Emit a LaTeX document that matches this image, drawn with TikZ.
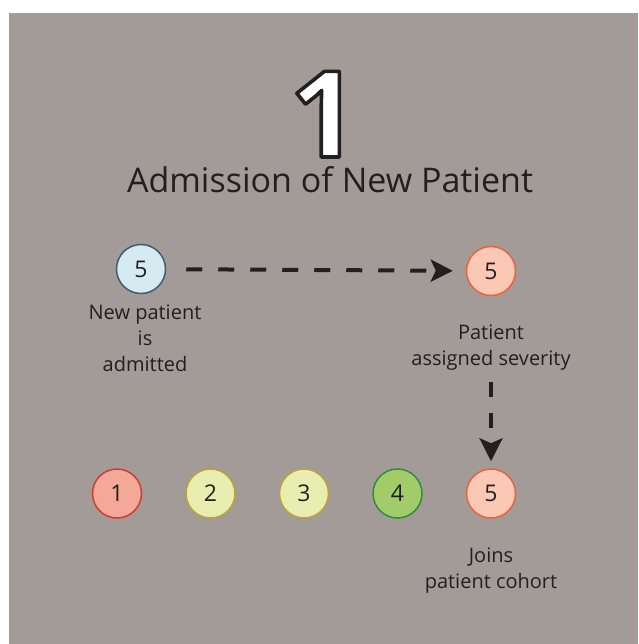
\documentclass[tikz,border=0pt]{standalone}
\usepackage{fontspec}
\setmainfont{Open Sans}
\usetikzlibrary{arrows.meta}
\definecolor{bgray}{RGB}{163,155,151}
\definecolor{ink}{RGB}{35,31,32}
\definecolor{bluefill}{RGB}{214,234,242}
\definecolor{bluedraw}{RGB}{62,92,115}
\definecolor{salfill}{RGB}{250,200,180}
\definecolor{saldraw}{RGB}{232,100,60}
\definecolor{redfill}{RGB}{244,168,152}
\definecolor{reddraw}{RGB}{208,60,50}
\definecolor{yelfill}{RGB}{232,238,176}
\definecolor{yeldraw}{RGB}{190,160,60}
\definecolor{grnfill}{RGB}{162,204,106}
\definecolor{grndraw}{RGB}{50,140,60}
\newcommand{\outlined}[1]{\special{pdf:literal direct 2 Tr 3.6 w 0.137 0.122 0.125 RG 1 j}#1\special{pdf:literal direct 0 Tr 0.4 w 0 0 0 RG 0 j}}
\tikzset{
  pt/.style={circle, minimum size=49pt, inner sep=0pt, line width=1.5pt, text=ink, font=\fontsize{23}{23}\selectfont},
  lbl/.style={align=center, text=ink, inner sep=0pt, anchor=base, font=\fontsize{20}{26}\selectfont},
  flow/.style={draw=ink, line width=4pt, dash pattern=on 16pt off 16pt, -{Stealth[length=22pt,width=22pt,inset=5pt]}},
  bignum/.style={inner sep=0pt, anchor=base, text=white, font=\fontsize{120}{120}\selectfont\bfseries}
}
\begin{document}
\begin{tikzpicture}[x=1pt,y=-1pt]
\useasboundingbox (0,0) rectangle (638,644);
\fill[white] (0,0) rectangle (638,644);
\fill[bgray] (9,13) rectangle (638,644);
\node[anchor=base, inner sep=0pt, text=ink, font=\fontsize{34}{40}\selectfont] (title) at (330,193) {Admission of New Patient};
% top row
\node[pt, draw=bluedraw, fill=bluefill] (new) at (141,269) {5};
\node[pt, draw=saldraw, fill=salfill] (sev) at (491,271) {5};
\node[lbl] (newl) at (145,371) {New patient\\is\\admitted};
\node[lbl] (sevl) at (491,365) {Patient\\assigned severity};
% bottom row
\node[pt, draw=reddraw, fill=redfill] (c1) at (117,493.5) {1};
\node[pt, draw=yeldraw, fill=yelfill] (c2) at (210.5,493.5) {2};
\node[pt, draw=yeldraw, fill=yelfill] (c3) at (304,493.5) {3};
\node[pt, draw=grndraw, fill=grnfill] (c4) at (397.5,493.5) {4};
\node[pt, draw=saldraw, fill=salfill] (c5) at (491,493.5) {5};
\node[lbl] (c5l) at (491,588) {Joins\\patient cohort};
% arrows
\draw[flow, shorten <=20pt, shorten >=13pt] (new) -- (sev);
\coordinate (vstart) at (491,382);
\draw[flow, line width=3.5pt, dash pattern=on 15pt off 16pt, -{Stealth[length=23pt,width=23pt,inset=5pt]}, shorten >=7pt] (vstart) -- (c5);
% big outlined number
\node[bignum] (num) at (324,157) {\outlined{1}};
\end{tikzpicture}
\end{document}
